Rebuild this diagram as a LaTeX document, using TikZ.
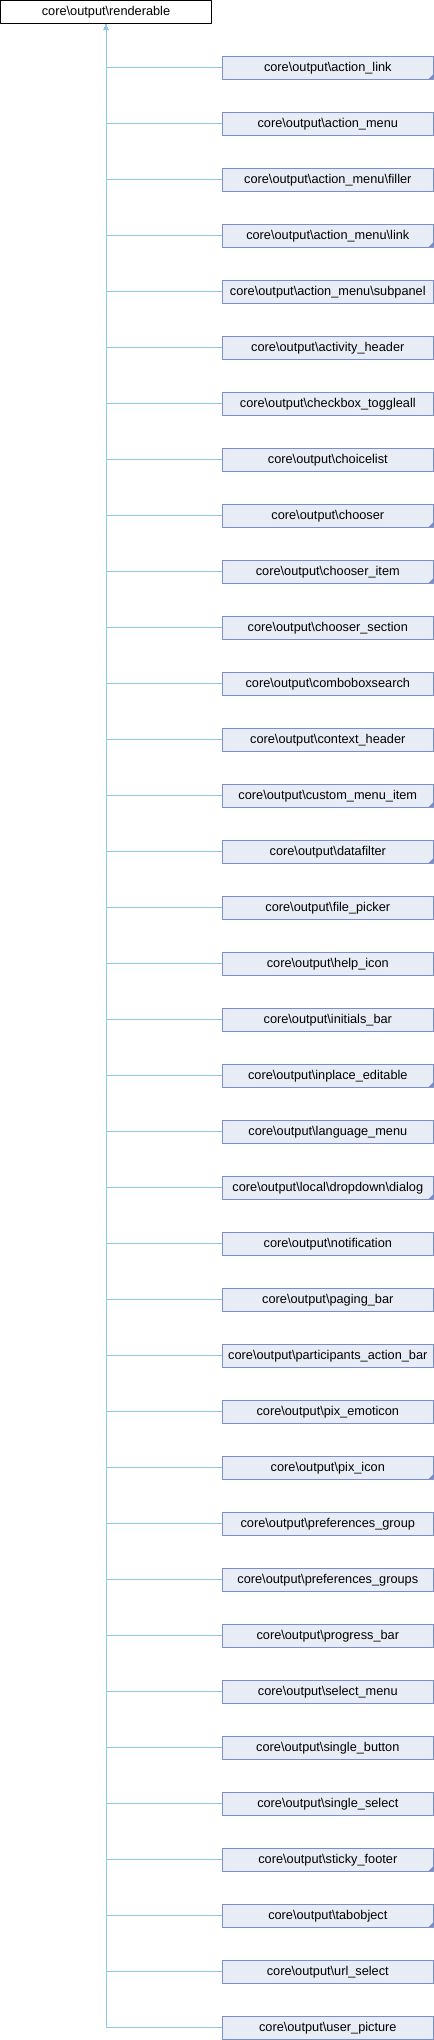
\documentclass[tikz,border=0pt]{standalone}
\usepackage{fontspec}
\setmainfont{Liberation Sans}
\usetikzlibrary{arrows.meta}
\definecolor{edgeblue}{RGB}{138,200,232}
\definecolor{boxline}{RGB}{122,143,201}
\definecolor{boxfill}{RGB}{232,236,244}
\begin{document}
\begin{tikzpicture}[>={Latex[length=6bp,width=4.5bp]},line join=bevel,
  font=\fontsize{12.8}{14}\selectfont,
  classbox/.style={draw=black,fill=white,line width=1bp,minimum width=211bp,minimum height=23bp,inner sep=0pt},
  childbox/.style={draw=boxline,fill=boxfill,line width=1bp,minimum width=211bp,minimum height=23bp,inner sep=0pt},
  truncated/.style={path picture={\fill[boxline] (path picture bounding box.south east) -- ++(-5bp,0bp) -- ++(5bp,5bp) -- cycle;}},
  inherit/.style={draw=edgeblue,line width=1bp,<-}]
%%
\useasboundingbox (0bp,0bp) rectangle (434bp,-2040bp);
\node (node_0) at (106bp,-11.8bp) [classbox] {core\textbackslash output\textbackslash renderable};
  \node (node_1) at (327.8bp,-67.8bp) [childbox,truncated] {core\textbackslash output\textbackslash action\_link};
  \node (node_2) at (327.8bp,-123.8bp) [childbox] {core\textbackslash output\textbackslash action\_menu};
  \node (node_3) at (327.8bp,-179.8bp) [childbox] {core\textbackslash output\textbackslash action\_menu\textbackslash filler};
  \node (node_4) at (327.8bp,-235.8bp) [childbox,truncated] {core\textbackslash output\textbackslash action\_menu\textbackslash link};
  \node (node_5) at (327.8bp,-291.8bp) [childbox] {core\textbackslash output\textbackslash action\_menu\textbackslash subpanel};
  \node (node_6) at (327.8bp,-347.8bp) [childbox] {core\textbackslash output\textbackslash activity\_header};
  \node (node_7) at (327.8bp,-403.8bp) [childbox] {core\textbackslash output\textbackslash checkbox\_toggleall};
  \node (node_8) at (327.8bp,-459.8bp) [childbox] {core\textbackslash output\textbackslash choicelist};
  \node (node_9) at (327.8bp,-515.8bp) [childbox,truncated] {core\textbackslash output\textbackslash chooser};
  \node (node_10) at (327.8bp,-571.8bp) [childbox,truncated] {core\textbackslash output\textbackslash chooser\_item};
  \node (node_11) at (327.8bp,-627.8bp) [childbox] {core\textbackslash output\textbackslash chooser\_section};
  \node (node_12) at (327.8bp,-683.8bp) [childbox] {core\textbackslash output\textbackslash comboboxsearch};
  \node (node_13) at (327.8bp,-739.8bp) [childbox] {core\textbackslash output\textbackslash context\_header};
  \node (node_14) at (327.8bp,-795.8bp) [childbox,truncated] {core\textbackslash output\textbackslash custom\_menu\_item};
  \node (node_15) at (327.8bp,-851.8bp) [childbox,truncated] {core\textbackslash output\textbackslash datafilter};
  \node (node_16) at (327.8bp,-907.8bp) [childbox] {core\textbackslash output\textbackslash file\_picker};
  \node (node_17) at (327.8bp,-963.8bp) [childbox] {core\textbackslash output\textbackslash help\_icon};
  \node (node_18) at (327.8bp,-1019.8bp) [childbox] {core\textbackslash output\textbackslash initials\_bar};
  \node (node_19) at (327.8bp,-1075.8bp) [childbox,truncated] {core\textbackslash output\textbackslash inplace\_editable};
  \node (node_20) at (327.8bp,-1131.8bp) [childbox] {core\textbackslash output\textbackslash language\_menu};
  \node (node_21) at (327.8bp,-1187.8bp) [childbox,truncated] {core\textbackslash output\textbackslash local\textbackslash dropdown\textbackslash dialog};
  \node (node_22) at (327.8bp,-1243.8bp) [childbox] {core\textbackslash output\textbackslash notification};
  \node (node_23) at (327.8bp,-1299.8bp) [childbox] {core\textbackslash output\textbackslash paging\_bar};
  \node (node_24) at (327.8bp,-1355.8bp) [childbox] {core\textbackslash output\textbackslash participants\_action\_bar};
  \node (node_25) at (327.8bp,-1411.8bp) [childbox] {core\textbackslash output\textbackslash pix\_emoticon};
  \node (node_26) at (327.8bp,-1467.8bp) [childbox,truncated] {core\textbackslash output\textbackslash pix\_icon};
  \node (node_27) at (327.8bp,-1523.8bp) [childbox] {core\textbackslash output\textbackslash preferences\_group};
  \node (node_28) at (327.8bp,-1579.8bp) [childbox] {core\textbackslash output\textbackslash preferences\_groups};
  \node (node_29) at (327.8bp,-1635.8bp) [childbox] {core\textbackslash output\textbackslash progress\_bar};
  \node (node_30) at (327.8bp,-1691.8bp) [childbox] {core\textbackslash output\textbackslash select\_menu};
  \node (node_31) at (327.8bp,-1747.8bp) [childbox] {core\textbackslash output\textbackslash single\_button};
  \node (node_32) at (327.8bp,-1803.8bp) [childbox] {core\textbackslash output\textbackslash single\_select};
  \node (node_33) at (327.8bp,-1859.8bp) [childbox,truncated] {core\textbackslash output\textbackslash sticky\_footer};
  \node (node_34) at (327.8bp,-1915.8bp) [childbox,truncated] {core\textbackslash output\textbackslash tabobject};
  \node (node_35) at (327.8bp,-1971.8bp) [childbox] {core\textbackslash output\textbackslash url\_select};
  \node (node_36) at (327.8bp,-2027.8bp) [childbox] {core\textbackslash output\textbackslash user\_picture};
%
\foreach \i in {1,...,36}
  \draw [inherit] (node_0) |- (node_\i);
%
\end{tikzpicture}
\end{document}
